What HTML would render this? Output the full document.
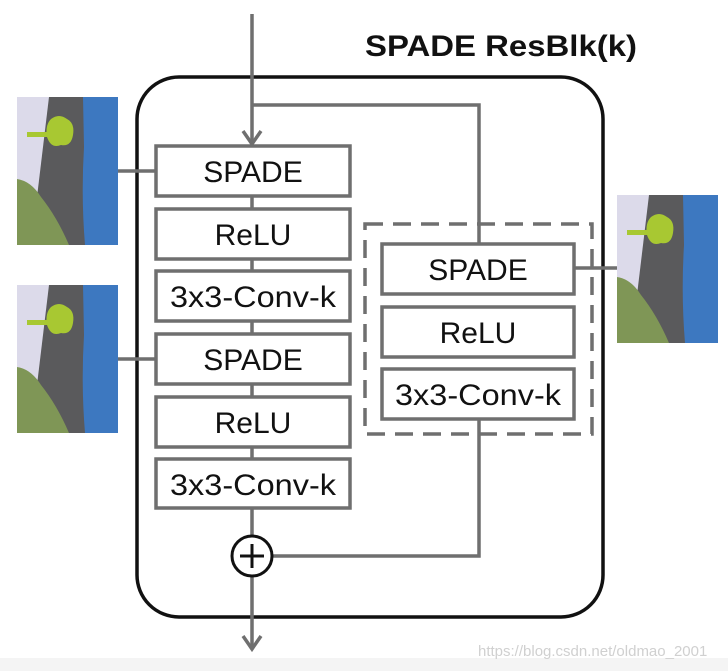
<!DOCTYPE html>
<html><head><style>body{margin:0;background:#fff}svg{display:block}</style></head><body>
<svg width="728" height="671" viewBox="0 0 728 671" xmlns="http://www.w3.org/2000/svg">
<defs>
<g id="seg">
<rect x="0" y="0" width="101" height="148" fill="#dcdaea"/>
<path d="M32 0 L101 0 L101 148 L28 148 L20 100 Z" fill="#5a5a5c"/>
<path d="M66 0 L101 0 L101 148 L68 148 Q64 100 67 50 Z" fill="#3d78c0"/>
<path d="M0 82 Q14 84 24 100 Q40 120 52 148 L0 148 Z" fill="#7f9656"/>
<rect x="10" y="35" width="22" height="5" fill="#a8c832"/>
<path d="M34 22 Q42 16 50 22 Q58 26 56 38 Q54 50 44 48 Q34 52 30 40 Q28 28 34 22 Z" fill="#a8c832"/>
</g>
</defs>
<rect x="0" y="658" width="728" height="13" fill="#f4f4f4"/>
<use href="#seg" x="17" y="97"/>
<use href="#seg" x="17" y="285"/>
<use href="#seg" x="617" y="195"/>
<rect x="137" y="77" width="466" height="540" rx="42" fill="none" stroke="#111" stroke-width="3.5"/>
<text x="365" y="56" font-family="Liberation Sans, sans-serif" font-weight="bold" font-size="30" fill="#111" textLength="272" lengthAdjust="spacingAndGlyphs">SPADE ResBlk(k)</text>
<g stroke="#6f6f6f" stroke-width="3.5" fill="none">
<line x1="252" y1="14" x2="252" y2="144"/>
<polyline points="243,131 252,144 261,131"/>
<polyline points="252,105 479,105 479,244"/>
<line x1="118" y1="171" x2="156" y2="171"/>
<line x1="118" y1="359" x2="156" y2="359"/>
<line x1="574" y1="268" x2="617" y2="268"/>
<line x1="252" y1="196" x2="252" y2="536"/>
<polyline points="479,419 479,556 273,556"/>
<line x1="252" y1="577" x2="252" y2="648"/>
<polyline points="243,636 252,649 261,636"/>
<rect x="365" y="224" width="227" height="210" stroke-dasharray="18,10"/>
</g>
<g stroke="#6f6f6f" stroke-width="3.5" fill="#fff">
<rect x="156" y="146" width="194" height="50"/>
<rect x="156" y="209" width="194" height="50"/>
<rect x="156" y="271" width="194" height="50"/>
<rect x="156" y="334" width="194" height="50"/>
<rect x="156" y="397" width="194" height="50"/>
<rect x="156" y="459" width="194" height="49"/>
<rect x="382" y="244" width="192" height="50"/>
<rect x="382" y="307" width="192" height="50"/>
<rect x="382" y="369" width="192" height="50"/>
</g>
<circle cx="252" cy="556" r="20" fill="#fff" stroke="#111" stroke-width="3"/>
<line x1="240" y1="556" x2="264" y2="556" stroke="#111" stroke-width="3"/>
<line x1="252" y1="544" x2="252" y2="568" stroke="#111" stroke-width="3"/>
<g font-family="Liberation Sans, sans-serif" font-size="30" fill="#111" text-anchor="middle">
<text x="253" y="182">SPADE</text>
<text x="253" y="245">ReLU</text>
<text x="253" y="307" textLength="166" lengthAdjust="spacingAndGlyphs">3x3-Conv-k</text>
<text x="253" y="370">SPADE</text>
<text x="253" y="433">ReLU</text>
<text x="253" y="495" textLength="166" lengthAdjust="spacingAndGlyphs">3x3-Conv-k</text>
<text x="478" y="280">SPADE</text>
<text x="478" y="343">ReLU</text>
<text x="478" y="405" textLength="166" lengthAdjust="spacingAndGlyphs">3x3-Conv-k</text>
</g>
<text x="478" y="656" font-family="Liberation Sans, sans-serif" font-size="15" fill="#d0d0d0">https://blog.csdn.net/oldmao_2001</text>
</svg>
</body></html>
